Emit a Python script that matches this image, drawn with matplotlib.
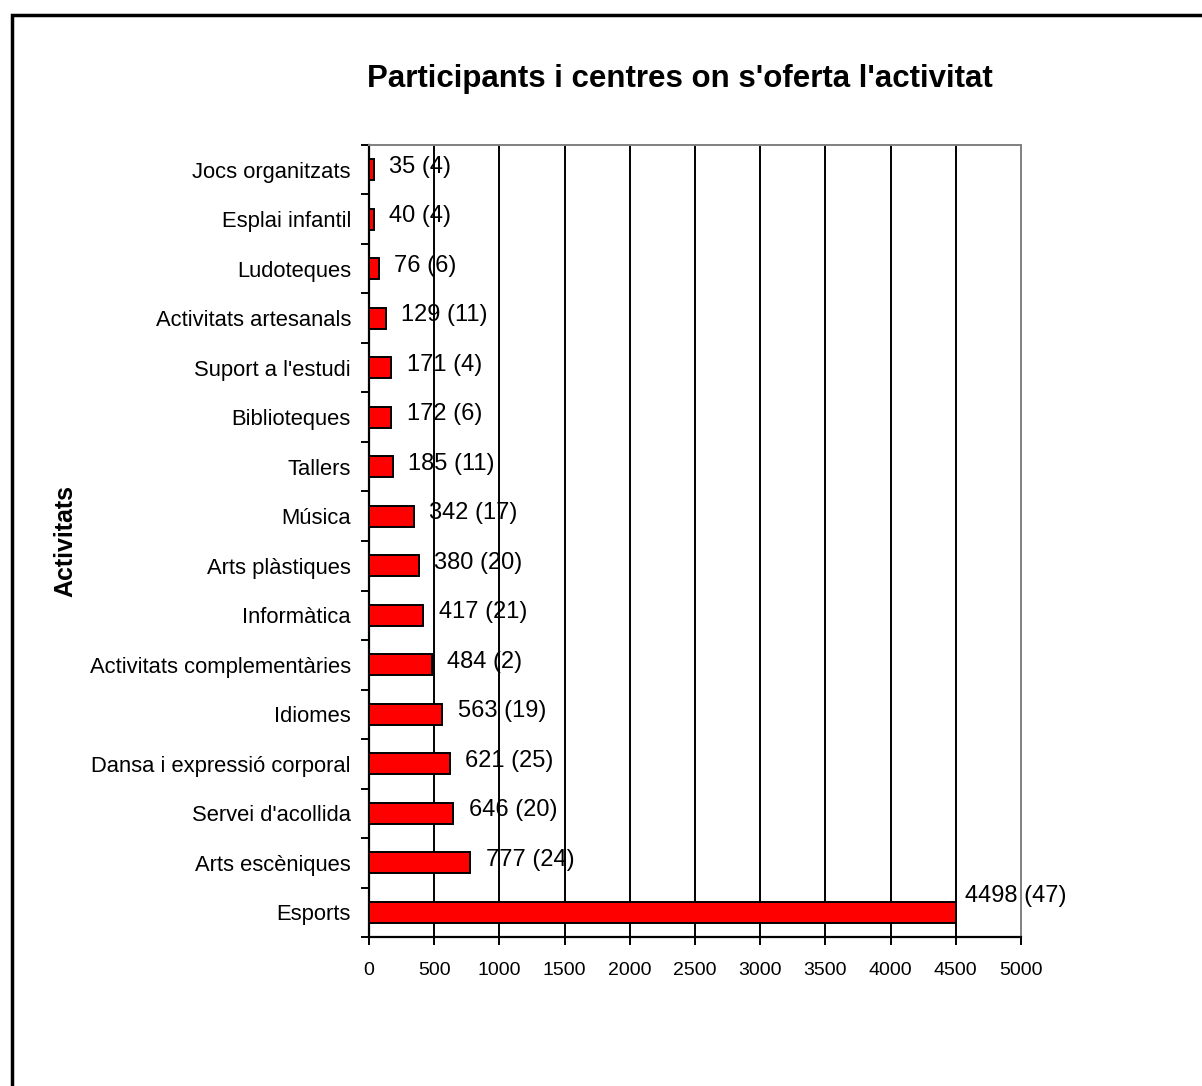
import matplotlib
matplotlib.use("Agg")
import matplotlib.pyplot as plt
from matplotlib.patches import Rectangle
from matplotlib.ticker import FixedLocator

categories = ["Esports", "Arts escèniques", "Servei d'acollida", "Dansa i expressió corporal",
              "Idiomes", "Activitats complementàries", "Informàtica", "Arts plàstiques",
              "Música", "Tallers", "Biblioteques", "Suport a l'estudi",
              "Activitats artesanals", "Ludoteques", "Esplai infantil", "Jocs organitzats"]
participants = [4498, 777, 646, 621, 563, 484, 417, 380, 342, 185, 172, 171, 129, 76, 40, 35]
centres = [47, 24, 20, 25, 19, 2, 21, 20, 17, 11, 6, 4, 11, 6, 4, 4]
xticks = [0, 500, 1000, 1500, 2000, 2500, 3000, 3500, 4000, 4500, 5000]

plt.rcParams['font.family'] = ['Liberation Sans', 'DejaVu Sans']

fig = plt.figure(figsize=(12.02, 10.86), dpi=100)
ax = fig.add_axes([369/1202, 1-937/1086, (1021-369)/1202, (937-145)/1086])

ypos = list(range(len(categories)))
ax.barh(ypos, participants, height=0.42, color='#ff0000', edgecolor='black', linewidth=1.4, zorder=3)

ax.set_xlim(0, 5000)
ax.set_ylim(-0.5, len(categories)-0.5)
ax.set_xticks(xticks)
ax.set_xticklabels([str(t) for t in xticks], fontsize=14)
ax.set_yticks(ypos)
ax.set_yticklabels(categories, fontsize=15.8)
ax.tick_params(axis='y', which='major', length=0, pad=13)
ax.yaxis.set_minor_locator(FixedLocator([i - 0.5 for i in range(len(categories)+1)]))
ax.tick_params(axis='y', which='minor', length=6, width=1.4, direction='out', color='black')
ax.tick_params(axis='x', which='major', length=6, width=1.4, direction='out', pad=12, color='black')

for t in xticks[1:-1]:
    ax.axvline(t, color='black', linewidth=1.4, zorder=1)

for s in ['left', 'bottom']:
    ax.spines[s].set_color('black')
    ax.spines[s].set_linewidth(1.6)
for s in ['top', 'right']:
    ax.spines[s].set_color('#808080')
    ax.spines[s].set_linewidth(1.4)

pmax = max(participants)
for y, p, c in zip(ypos, participants, centres):
    dy = 12 if p == pmax else 2
    dx = 7 if p == pmax else 11
    ax.annotate(f"{p} ({c})", xy=(p, y), xytext=(dx, dy), textcoords='offset points',
                va='center', ha='left', fontsize=17, zorder=4)

fig.text(680/1202, 1-79/1086, "Participants i centres on s'oferta l'activitat",
         ha='center', va='center', fontsize=22.5, fontweight='bold')
fig.text(65/1202, 1-541/1086, "Activitats", rotation=90, ha='center', va='center',
         fontsize=18, fontweight='bold')

fig.patches.append(Rectangle((12/1202, -0.1), 1.2, 1.1 - 15/1086, transform=fig.transFigure,
                             fill=False, edgecolor='black', linewidth=2.5))

fig.savefig("out.png", dpi=100)
